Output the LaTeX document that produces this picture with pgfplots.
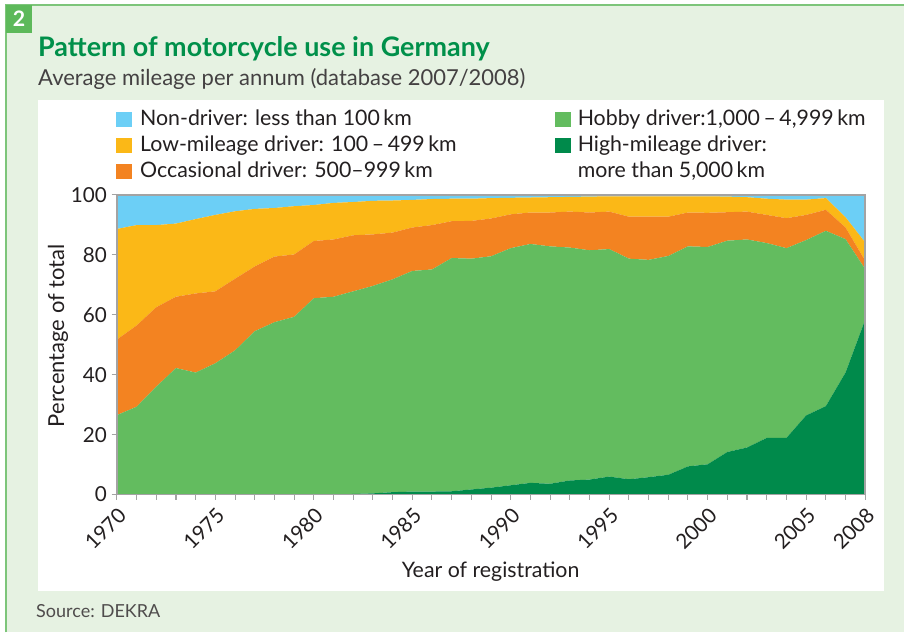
\documentclass[border=0pt]{standalone}
\usepackage{fontspec}
\setmainfont{Lato}
\usepackage{pgfplots}
\pgfplotsset{compat=1.18}
\usepackage{pgfplotstable}
\definecolor{cNon}{HTML}{6CCFF6}
\definecolor{cLow}{HTML}{FBB817}
\definecolor{cOcc}{HTML}{F38321}
\definecolor{cHob}{HTML}{63BC5F}
\definecolor{cHigh}{HTML}{008A4B}
\definecolor{panel}{HTML}{E6F2E2}
\definecolor{bordergreen}{HTML}{7DC57A}
\definecolor{boxgreen}{HTML}{5DB95A}
\definecolor{titlegreen}{HTML}{00904A}
\definecolor{axgray}{HTML}{A3A3A3}
\definecolor{txt}{HTML}{231F20}

\pgfplotstableread{
year high hobby occ low non
1970 0 26.5 25.2 36.9 11.4
1971 0 29.3 27.1 33.5 10.1
1972 0 36.0 26.5 27.4 10.1
1973 0 42.2 23.8 24.4 9.6
1974 0 40.7 26.4 24.8 8.1
1975 0 43.8 24.0 25.5 6.7
1976 0 48.1 23.9 22.5 5.5
1977 0 54.5 21.6 19.2 4.7
1978 0 57.5 21.9 16.2 4.4
1979 0 59.3 20.8 16.1 3.8
1980 0 65.5 19.1 12.0 3.4
1981 0 66.0 19.1 12.2 2.7
1982 0.2 67.6 18.7 11.1 2.4
1983 0.4 69.2 17.2 11.2 2.0
1984 0.8 71.0 15.6 10.7 1.9
1985 1.0 73.6 14.5 9.2 1.7
1986 1.0 74.1 14.8 8.7 1.4
1987 1.1 77.8 12.3 7.5 1.3
1988 1.7 77.0 12.6 7.4 1.3
1989 2.3 77.2 12.6 6.8 1.1
1990 3.1 79.1 11.3 5.5 1.0
1991 3.9 79.7 10.5 5.0 0.9
1992 3.6 79.2 11.3 5.1 0.8
1993 4.7 77.7 12.0 4.9 0.7
1994 5.0 76.5 12.6 5.3 0.6
1995 6.0 75.9 12.5 5.1 0.5
1996 5.1 73.6 14.0 6.8 0.5
1997 5.8 72.5 14.4 6.8 0.5
1998 6.6 73.0 13.1 6.8 0.5
1999 9.4 73.4 11.3 5.4 0.5
2000 10.1 72.5 11.4 5.5 0.5
2001 14.2 70.5 9.5 5.2 0.6
2002 15.7 69.4 9.3 4.8 0.8
2003 18.9 65.0 9.4 5.4 1.3
2004 18.9 63.3 10.0 6.2 1.6
2005 26.4 58.5 8.4 5.1 1.6
2006 29.5 58.5 7.0 3.9 1.1
2007 40.7 44.5 3.9 3.4 7.5
2008 58.4 16.8 2.8 6.1 15.9
}\data

\begin{document}
\begin{tikzpicture}
\fill[white] (0,0) rectangle (678.75pt,474.75pt);
\fill[panel] (4.5pt,0) rectangle (678.75pt,471pt);
\draw[bordergreen, line width=1.2pt] (4.5pt,0) -- (4.5pt,471pt) -- (678.75pt,471pt);
\fill[boxgreen] (4.5pt,450pt) rectangle (24pt,471pt);
\node[text=white, font=\fontsize{16}{16}\selectfont\bfseries] at (14.25pt,460.5pt) {2};
\fill[white] (28.5pt,30.75pt) rectangle (663.75pt,399.75pt);
\node[anchor=base west, inner sep=0, text=titlegreen, font=\fontsize{20.2}{20.2}\selectfont\bfseries] at (28.5pt,432pt) {Pattern of motorcycle use in Germany};
\node[anchor=base west, inner sep=0, text=txt!85, font=\fontsize{16.5}{16.5}\selectfont] at (28.5pt,410.25pt) {Average mileage per annum (database 2007/2008)};
% legend
\begin{scope}[every node/.style={anchor=base west, inner sep=0, text=txt, font=\fontsize{16}{16}\selectfont}]
\fill[cNon] (87pt,379.5pt) rectangle (99pt,390.5pt);
\node at (105pt,380.25pt) {Non-driver: less than 100\,km};
\fill[cLow] (87pt,360pt) rectangle (99pt,371pt);
\node at (105pt,360.75pt) {Low-mileage driver: 100\,–\,499\,km};
\fill[cOcc] (87pt,340.5pt) rectangle (99pt,351.5pt);
\node at (105pt,341.25pt) {Occasional driver: 500–999\,km};
\fill[cHob] (416.25pt,379.5pt) rectangle (428.25pt,390.5pt);
\node at (433.5pt,380.25pt) {Hobby driver:1,000\,–\,4,999\,km};
\fill[cHigh] (416.25pt,360pt) rectangle (428.25pt,371pt);
\node at (433.5pt,360.75pt) {High-mileage driver:};
\node at (433.5pt,341.25pt) {more than 5,000\,km};
\end{scope}
\node[anchor=base, inner sep=0, text=txt, font=\fontsize{16}{16}\selectfont] at (368.25pt,41.25pt) {Year of registration};
\node[anchor=base west, inner sep=0, text=txt!80, font=\fontsize{13.5}{13.5}\selectfont] at (27pt,11.25pt) {Source: DEKRA};
\node[rotate=90, inner sep=0, text=txt, font=\fontsize{16.5}{16.5}\selectfont] at (43.5pt,222.75pt) {Percentage of total};
\begin{axis}[
  at={(87.75pt,103.5pt)}, anchor=south west,
  scale only axis, width=561.75pt, height=225pt,
  stack plots=y,
  xmin=1970, xmax=2008, ymin=0, ymax=100,
  enlargelimits=false,
  axis on top,
  axis line style={axgray, line width=1.2pt},
  xtick={1970,1975,1980,1985,1990,1995,2000,2005,2008},
  minor xtick={1970,...,2008},
  ytick={0,20,40,60,80,100},
  tick align=outside,
  tick style={axgray, line width=0.8pt},
  major tick length=4pt, minor tick length=4pt,
  xtick pos=bottom, ytick pos=left,
  /pgf/number format/assume math mode=true,
  /pgf/number format/1000 sep={},
  ticklabel style={font=\fontsize{15.5}{15.5}\selectfont, text=txt},
  xticklabel style={rotate=45, anchor=north east},
]
\addplot[fill=cHigh, draw=none] table[x=year, y=high] {\data} \closedcycle;
\addplot[fill=cHob, draw=none] table[x=year, y=hobby] {\data} \closedcycle;
\addplot[fill=cOcc, draw=none] table[x=year, y=occ] {\data} \closedcycle;
\addplot[fill=cLow, draw=none] table[x=year, y=low] {\data} \closedcycle;
\addplot[fill=cNon, draw=none] table[x=year, y=non] {\data} \closedcycle;
\end{axis}
\end{tikzpicture}
\end{document}
